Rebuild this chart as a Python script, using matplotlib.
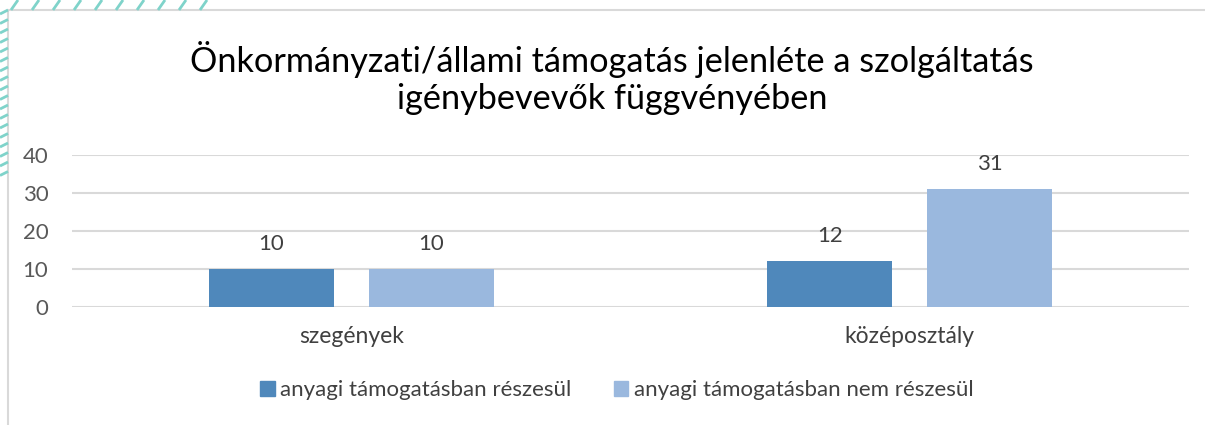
import numpy as np
import matplotlib.pyplot as plt
from matplotlib.patches import Rectangle

kategoriak = ["szegények", "középosztály"]
sorozatok = ["anyagi támogatásban részesül", "anyagi támogatásban nem részesül"]
reszesul = [10, 12]
nem_reszesul = [10, 31]
yticks = [0, 10, 20, 30, 40]
cim = "Önkormányzati/állami támogatás jelenléte a szolgáltatás\nigénybevevők függvényében"

sotet = "#4f88bb"
vilagos = "#9ab8de"
racs = "#d9d9d9"
szoveg = "#595959"

plt.rcParams['font.family'] = ['Lato', 'DejaVu Sans']

W, H = 1205, 425
fig = plt.figure(figsize=(W / 100, H / 100), dpi=100)

# hatter: csikos minta + keret
bg = fig.add_axes([0, 0, 1, 1])
bg.set_xlim(0, W)
bg.set_ylim(H, 0)
bg.axis('off')
for x in np.arange(-10, 215, 21):
    bg.plot([x, x + 7], [10, 0], color="#7fd3ca", lw=2, solid_capstyle='butt')
for y in np.arange(14, 180, 9.5):
    bg.plot([0, 8], [y, y - 4], color="#7fd3ca", lw=2, solid_capstyle='butt')
bg.add_patch(Rectangle((8, 10), W + 20, H + 20, facecolor="white", edgecolor=racs, lw=1.5))

ax = fig.add_axes([72 / W, 1 - 307 / H, (1189 - 72) / W, (307 - 155) / H])
x = np.arange(len(kategoriak))
w = 0.224
off = 0.143
b1 = ax.bar(x - off, reszesul, w, color=sotet, zorder=3)
b2 = ax.bar(x + off, nem_reszesul, w, color=vilagos, zorder=3)
for bars in (b1, b2):
    ax.bar_label(bars, padding=11, fontsize=16, color="#404040")

ax.set_xlim(-0.5, len(kategoriak) - 0.5)
ax.set_ylim(0, 40)
ax.set_yticks(yticks)
ax.yaxis.grid(True, color=racs, lw=1.5, zorder=0)
ax.set_axisbelow(True)
for s in ax.spines.values():
    s.set_visible(False)
ax.tick_params(axis='y', length=0, pad=17, labelsize=16, labelcolor=szoveg)
ax.tick_params(axis='x', length=0, pad=14, labelsize=16.5, labelcolor="#404040")
ax.set_xticks(x)
ax.set_xticklabels(kategoriak)

fig.text(612 / W, 1 - 78 / H, cim, ha='center', va='center', fontsize=24.7,
         color="black", linespacing=1.22)

handles = [Rectangle((0, 0), 1, 1, color=sotet), Rectangle((0, 0), 1, 1, color=vilagos)]
fig.legend(handles, sorozatok, loc='center', bbox_to_anchor=(617 / W, 1 - 390 / H),
           ncol=2, frameon=False, fontsize=16, handlelength=0.65, handleheight=0.65,
           handletextpad=0.25, columnspacing=1.9, labelcolor="#404040")

fig.savefig("out.png", dpi=100)
